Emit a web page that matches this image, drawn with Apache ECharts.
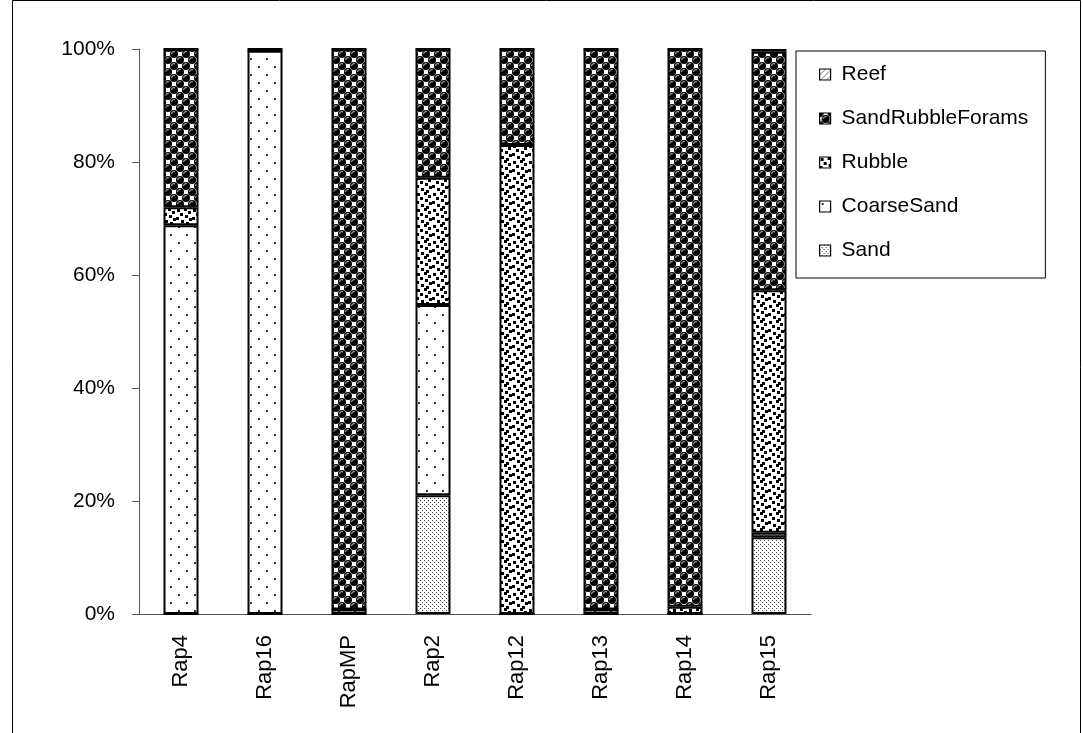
<!DOCTYPE html>
<html>
<head>
<meta charset="utf-8">
<script src="https://cdn.jsdelivr.net/npm/echarts@6/dist/echarts.min.js"></script>
<style>
  html, body { margin: 0; padding: 0; background: #fff; }
  #chart { width: 1083px; height: 733px; }
</style>
</head>
<body>
<div id="chart"></div>
<script>
// Sites along the x axis
const sites = ['Rap4', 'Rap16', 'RapMP', 'Rap2', 'Rap12', 'Rap13', 'Rap14', 'Rap15'];

// Percentage cover of each substrate class per site (stacked bottom to top)
const sand             = [0,    0,    0,    21.0, 0,    0,    0,    13.6];
const coarseSand       = [68.8, 99.7, 0.8,  33.7, 0,    0.8,  0,    0.8];
const rubble           = [3.2,  0,    0,    22.5, 83.0, 0,    1.3,  42.9];
const sandRubbleForams = [28.0, 0.3,  99.2, 22.8, 17.0, 99.2, 98.7, 42.2];
const reef             = [0,    0,    0,    0,    0,    0,    0,    0.5];

// Y axis tick labels
const yTicks = ['0%', '20%', '40%', '60%', '80%', '100%'];

const FONT = '"Liberation Sans", Arial, sans-serif';

// ---- fill patterns drawn on small tiles ----
function tile(w, h, draw) {
  const c = document.createElement('canvas');
  c.width = w; c.height = h;
  const g = c.getContext('2d');
  g.fillStyle = '#fff';
  g.fillRect(0, 0, w, h);
  draw(g);
  return c;
}

// fine stipple
const sandTile = tile(4, 4, g => {
  g.fillStyle = '#444';
  g.fillRect(0, 0, 1, 1);
  g.fillRect(2, 2, 1, 1);
});

// sparse dots
const coarseTile = tile(16, 16, g => {
  g.fillStyle = '#333';
  g.fillRect(2, 2, 2, 2);
  g.fillRect(10, 10, 2, 2);
});

// scattered small black squares
const rubbleTile = tile(16, 16, g => {
  g.fillStyle = '#000';
  const pts = [[1, 1], [8, 0], [12, 3], [4, 5], [9, 7], [0, 9], [13, 10], [5, 12], [10, 14]];
  pts.forEach(([x, y]) => {
    for (const dx of [0, -16]) for (const dy of [0, -16]) g.fillRect(x + dx, y + dy, 3, 3);
  });
});

// black spheres with light highlights, white gaps between them
const sphereTile = tile(12, 12, g => {
  const centers = [[0, 0], [12, 0], [0, 12], [12, 12], [6, 6]];
  g.fillStyle = '#000';
  centers.forEach(([x, y]) => {
    g.beginPath(); g.arc(x, y, 4.0, 0, Math.PI * 2); g.fill();
  });
  g.strokeStyle = '#d0d0d0';
  g.lineWidth = 1;
  centers.forEach(([x, y]) => {
    g.beginPath(); g.arc(x, y, 2.4, Math.PI * 1.0, Math.PI * 1.65); g.stroke();
  });
});

// light diagonal hatch
const reefTile = tile(6, 6, g => {
  g.strokeStyle = '#777';
  g.lineWidth = 1;
  g.beginPath(); g.moveTo(0, 6); g.lineTo(6, 0); g.stroke();
});

const pat = c => ({ image: c, repeat: 'repeat' });

function barSeries(name, data, fill) {
  return {
    name, type: 'bar', stack: 'total', data,
    barWidth: 35,
    itemStyle: { color: pat(fill), borderColor: '#000', borderWidth: 2 },
    emphasis: { disabled: true }
  };
}

const chart = echarts.init(document.getElementById('chart'), null, { renderer: 'canvas' });

chart.setOption({
  animation: false,
  backgroundColor: '#fff',
  graphic: [{
    type: 'rect',
    shape: { x: 12.5, y: 0.5, width: 1068, height: 800 },
    style: { fill: 'none', stroke: '#000', lineWidth: 1 },
    silent: true
  }],
  grid: { left: 139, top: 49, right: 272, bottom: 119 },
  legend: {
    orient: 'vertical',
    left: 796, top: 51,
    padding: [13, 17, 17, 23],
    itemGap: 23,
    itemWidth: 11, itemHeight: 11,
    borderColor: '#000', borderWidth: 1,
    backgroundColor: '#fff',
    icon: 'rect',
    itemStyle: { borderWidth: 1.2, borderColor: '#000' },
    textStyle: { fontFamily: FONT, fontSize: 21, color: '#000', padding: [0, 0, 0, 6] },
    data: ['Reef', 'SandRubbleForams', 'Rubble', 'CoarseSand', 'Sand']
  },
  xAxis: {
    type: 'category',
    data: sites,
    axisLine: { lineStyle: { color: '#555', width: 1 } },
    axisTick: { show: false },
    axisLabel: { rotate: 90, margin: 21, fontFamily: FONT, fontSize: 22, color: '#000' }
  },
  yAxis: {
    type: 'value',
    min: 0, max: 100, interval: 20,
    axisLine: { show: true, lineStyle: { color: '#555', width: 1 } },
    axisTick: { show: true, length: 7, lineStyle: { color: '#555' } },
    splitLine: { show: false },
    axisLabel: {
      margin: 24, fontFamily: FONT, fontSize: 21, color: '#000',
      formatter: v => yTicks[Math.round(v / 20)]
    }
  },
  series: [
    barSeries('Sand', sand, sandTile),
    barSeries('CoarseSand', coarseSand, coarseTile),
    barSeries('Rubble', rubble, rubbleTile),
    barSeries('SandRubbleForams', sandRubbleForams, sphereTile),
    barSeries('Reef', reef, reefTile)
  ]
});
</script>
</body>
</html>
